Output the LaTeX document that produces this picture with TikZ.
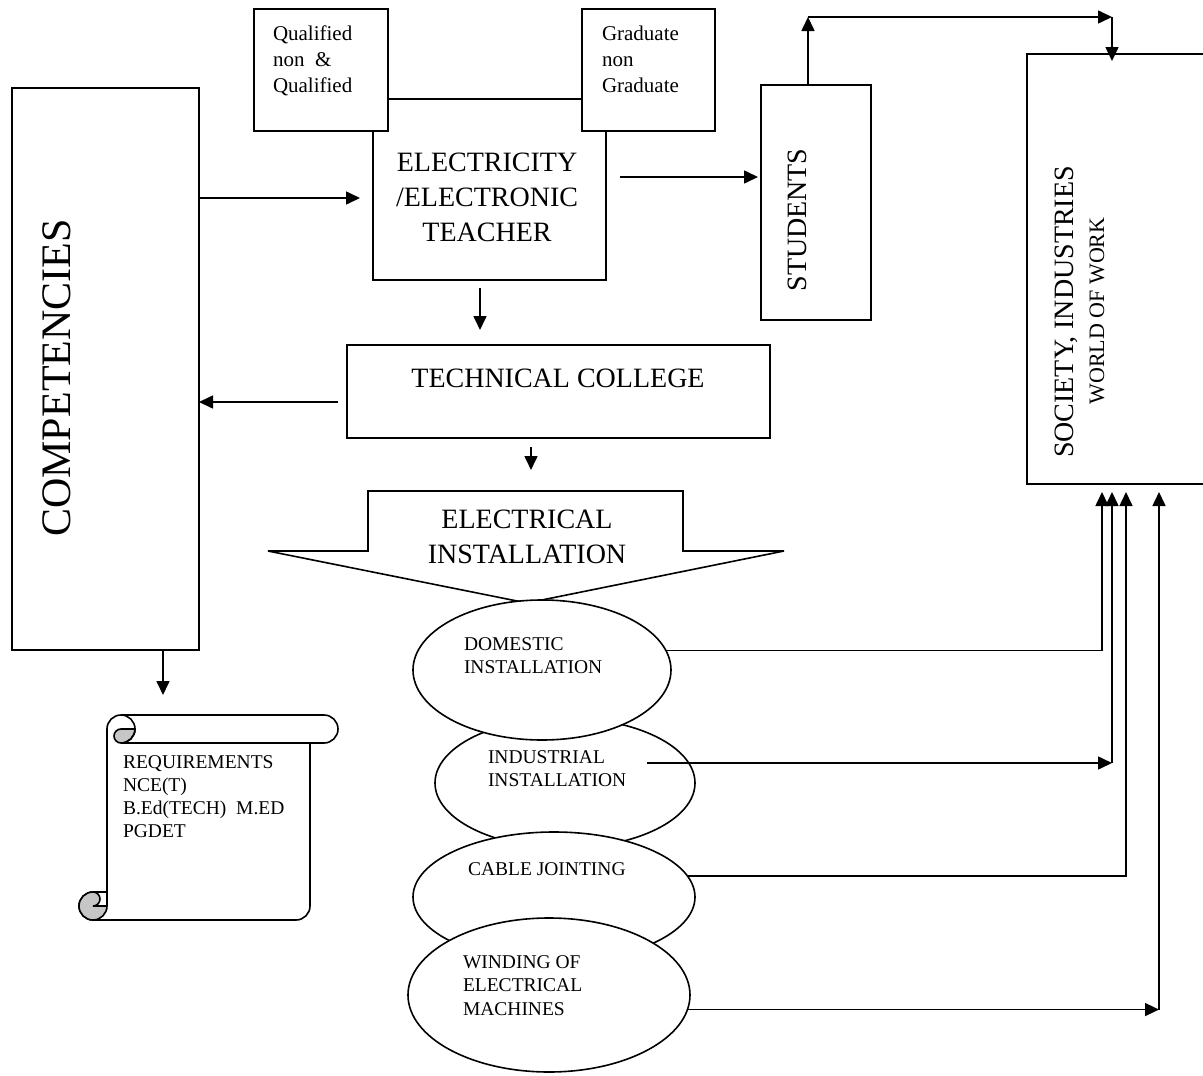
\documentclass[tikz,border=0pt]{standalone}
\usepackage{fontspec}
\setmainfont{Liberation Serif}
\usetikzlibrary{arrows.meta,shapes.geometric}

\begin{document}
\begin{tikzpicture}[x=1pt, y=-1pt,
    every node/.style={inner sep=0pt, outer sep=0pt},
    bx/.style={draw, line width=1.8pt, fill=white, rectangle},
    ell/.style={draw, line width=1.6pt, fill=white, ellipse},
    arr/.style={line width=1.6pt, -{Triangle[length=14pt,width=13pt]}},
    big/.style={font=\fontsize{28}{35}\selectfont},
    mid/.style={font=\fontsize{21}{26}\selectfont, align=left, anchor=base west},
    sml/.style={font=\fontsize{19.5}{22.5}\selectfont, align=left, anchor=base west}
  ]
  \useasboundingbox (0,0) rectangle (1203,1076);
  \fill[white] (0,0) rectangle (1203,1076);

  \node[bx, minimum width=187, minimum height=562] (comp) at (105.5,369) {};
  \node[font=\fontsize{42}{50}\selectfont, rotate=90, anchor=base] at (70,378) {COMPETENCIES};

  \node[bx, minimum width=233, minimum height=181] (elec) at (489.5,189.5) {};
  \node[big, align=center, anchor=base] at (487,241) {ELECTRICITY\\/ELECTRONIC\\TEACHER};
  \node[bx, minimum width=134, minimum height=122] (qual) at (321,70) {};
  \node[bx, minimum width=133, minimum height=122] (grad) at (648.5,70) {};
  \node[mid] at (273,92) {Qualified\\non\ \ \&\\Qualified};
  \node[mid] at (602,92) {Graduate\\non\\Graduate};

  \node[bx, minimum width=110, minimum height=235] (stud) at (816,202.5) {};
  \node[big, rotate=90, anchor=base] at (806,220) {STUDENTS};

  \node[bx, minimum width=203, minimum height=430, anchor=north west] (soc) at (1027,54) {};
  \node[big, rotate=90, anchor=base] at (1073,312) {SOCIETY, INDUSTRIES};
  \node[font=\fontsize{22}{26}\selectfont, rotate=90, anchor=base] at (1104,311) {WORLD OF WORK};

  \node[bx, minimum width=423, minimum height=93] (tech) at (558.5,391.5) {};
  \node[big, anchor=base] at (558,387) {TECHNICAL COLLEGE};

  \draw[line width=1.6pt, fill=white] (368,491) -- (683,491) -- (683,551) -- (784,551)
    -- (527,603) -- (268,551) -- (368,551) -- cycle;
  \node[big, align=center, anchor=base] (inst) at (527,563) {ELECTRICAL\\INSTALLATION};
  \coordinate (insttop) at (531,491);

  \node[ell, minimum width=260, minimum height=130] (ind) at (565,783) {};
  \node[ell, minimum width=258, minimum height=140] (dom) at (542,670) {};
  \node[ell, minimum width=282, minimum height=130] (cab) at (554,897) {};
  \node[ell, minimum width=282, minimum height=154] (win) at (549,995) {};
  \node[sml] at (464,673) {DOMESTIC\\INSTALLATION};
  \node[sml] at (488,786) {INDUSTRIAL\\INSTALLATION};
  \node[sml] at (468,875) {CABLE JOINTING};
  \node[sml, font=\fontsize{19.5}{23.5}\selectfont] at (463,1015) {WINDING OF\\ELECTRICAL\\MACHINES};

  \begin{scope}[shift={(79,715)}, line width=1.6pt]
    \draw[fill=white] (28,177) -- (28,14) arc[start angle=180, end angle=90, radius=14pt]
      -- (245,0) arc[start angle=90, end angle=-90, radius=14pt] -- (231,28) -- (231,191)
      arc[start angle=0, end angle=-90, radius=14pt] -- (14,205)
      arc[start angle=-90, end angle=-270, radius=14pt] -- cycle;
    \draw[fill=gray!45] (56,14) arc[start angle=0, end angle=-90, radius=14pt]
      arc[start angle=-90, end angle=-270, radius=7pt] -- cycle;
    \draw (42,0) arc[start angle=90, end angle=-90, radius=14pt];
    \draw (231,28) -- (42,28);
    \draw[fill=gray!45] (28,191) arc[start angle=0, end angle=-270, radius=14pt]
      arc[start angle=90, end angle=-90, radius=7pt] -- cycle;
    \draw (28,191) -- (28,177);
  \end{scope}
  \node[sml, font=\fontsize{19.5}{23}\selectfont] at (123,837) {REQUIREMENTS\\NCE(T)\\B.Ed(TECH)\ \ M.ED\\PGDET};
  \coordinate (req) at (163,715);

  \coordinate (c1) at (808,17);
  \coordinate (c2) at (1112,17);
  \coordinate (c3) at (1112,763);
  \coordinate (c4) at (647,763);
  \coordinate (c5) at (1159,1010);

  \draw[arr, shorten >=13] (comp.east |- 0,198) -- (elec.west |- 0,198);
  \draw[arr, shorten <=14, shorten >=3] (elec.east |- 0,177) -- (stud.west |- 0,177);
  \draw[arr] (stud.north -| c1) -- (c1);
  \draw[arr] (c1) -- (c2);
  \draw[arr, shorten >=-7] (c2) -- (soc.north -| c2);
  \draw[arr, shorten <=8, shorten >=15] (elec.south -| 480,0) -- (tech.north -| 480,0);
  \draw[arr, shorten <=9] (tech.west |- 0,402) -- (comp.east |- 0,402);
  \draw[arr, shorten <=9, shorten >=21] (tech.south -| insttop) -- (insttop);
  \draw[arr, shorten >=20] (comp.south -| req) -- (req);
  \draw[arr, shorten >=8] (dom.9) -| (soc.south -| 1102,0);
  \draw[arr] (c4) -- (c3);
  \draw[arr, shorten >=8] (c3) -- (soc.south -| c3);
  \draw[arr, shorten >=8] (cab.9) -| (soc.south -| 1126,0);
  \draw[arr] (win.-6) -- (win.-6 -| c5);
  \draw[arr, shorten >=8] (c5) -- (soc.south -| c5);
\end{tikzpicture}
\end{document}
